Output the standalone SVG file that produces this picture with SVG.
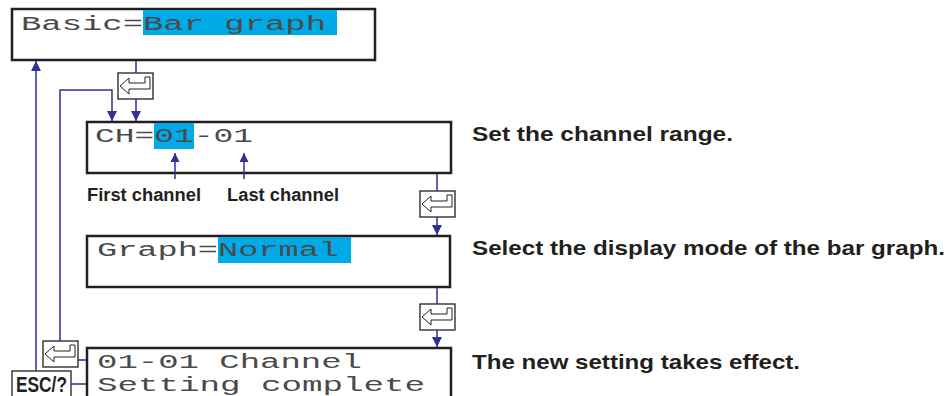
<svg xmlns="http://www.w3.org/2000/svg" width="950" height="396" viewBox="0 0 950 396">
<style>
.box{fill:#fff;stroke:#231f20;stroke-width:2.5}
.hl{fill:#00aae7}
.lcd{font-family:"Liberation Mono","DejaVu Sans Mono",monospace;font-size:20px;fill:#4a4a4a}
.lbl{font-family:"Liberation Sans",Arial,sans-serif;font-weight:bold;fill:#231f20}
.ln{fill:none;stroke:#2e3192;stroke-width:1.5}
.key{fill:#fff;stroke:#231f20;stroke-width:1.3}
.keyarr{fill:#fff;stroke:#231f20;stroke-width:1}
</style>
<defs>
<marker id="ah" viewBox="0 0 10 10" refX="10" refY="5" markerWidth="9" markerHeight="9" markerUnits="userSpaceOnUse" orient="auto">
<path d="M0,0 L10,5 L0,10 Z" fill="#2e3192"/>
</marker>
<marker id="ah2" viewBox="0 0 10 10" refX="10" refY="5" markerWidth="10" markerHeight="10" markerUnits="userSpaceOnUse" orient="auto">
<path d="M0,0 L10,5 L0,10 Z" fill="#2e3192"/>
</marker>
<g id="enter">
<rect class="key" x="0" y="0" width="35" height="26"/>
<polygon class="keyarr" points="2,13 11,5 11,10 27,10 27,4 32,4 32,16 11,16 11,21"/>
</g>
</defs>

<g id="node-basic">
<rect class="box" x="12" y="9" width="363" height="51"/>
<rect class="hl" x="143" y="10" width="194" height="25"/>
<text class="lcd" x="21" y="30" textLength="305" lengthAdjust="spacingAndGlyphs">Basic=Bar graph</text>
</g>

<g id="key1"><use href="#enter" x="118" y="73"/></g>

<g id="node-ch">
<rect class="box" x="87" y="122" width="364" height="51"/>
<rect class="hl" x="154" y="123" width="40" height="26"/>
<text class="lcd" x="95" y="142" textLength="158" lengthAdjust="spacingAndGlyphs">CH=01-01</text>
</g>

<text class="lbl" x="87" y="201" font-size="18" textLength="114" lengthAdjust="spacingAndGlyphs">First channel</text>
<text class="lbl" x="227" y="201" font-size="18" textLength="112" lengthAdjust="spacingAndGlyphs">Last channel</text>

<g id="key2"><use href="#enter" x="420" y="191"/></g>

<g id="node-graph">
<rect class="box" x="87" y="236" width="363" height="51"/>
<rect class="hl" x="218" y="237" width="133" height="26"/>
<text class="lcd" x="97" y="256" textLength="242" lengthAdjust="spacingAndGlyphs">Graph=Normal</text>
</g>

<g id="key3"><use href="#enter" x="420" y="304"/></g>

<g id="node-complete">
<rect class="box" x="87" y="348" width="364" height="60"/>
<text class="lcd" x="97" y="368" textLength="265" lengthAdjust="spacingAndGlyphs">01-01 Channel</text>
<text class="lcd" x="97" y="391" textLength="328" lengthAdjust="spacingAndGlyphs">Setting complete</text>
</g>

<g id="key4"><use href="#enter" x="43" y="341"/></g>

<g id="esc">
<rect class="key" x="12" y="371" width="59" height="35" stroke-width="1.5"/>
<text class="lbl" x="16" y="392" font-size="22" textLength="51" lengthAdjust="spacingAndGlyphs">ESC/?</text>
</g>

<g id="connectors">
<line class="ln" x1="136" y1="61" x2="136" y2="73"/>
<line class="ln" x1="136" y1="99" x2="136" y2="121" marker-end="url(#ah2)"/>
<polyline class="ln" points="60,341 60,90 112,90 112,121" marker-end="url(#ah2)"/>
<line class="ln" x1="78" y1="360" x2="86" y2="360"/>
<line class="ln" x1="36" y1="371" x2="36" y2="61" marker-end="url(#ah2)"/>
<line class="ln" x1="71" y1="384" x2="86" y2="384"/>
<line class="ln" x1="175" y1="179" x2="175" y2="153" marker-end="url(#ah)"/>
<line class="ln" x1="244" y1="179" x2="244" y2="153" marker-end="url(#ah)"/>
<line class="ln" x1="437" y1="174" x2="437" y2="191"/>
<line class="ln" x1="437" y1="217" x2="437" y2="235" marker-end="url(#ah2)"/>
<line class="ln" x1="437" y1="288" x2="437" y2="304"/>
<line class="ln" x1="437" y1="330" x2="437" y2="347" marker-end="url(#ah2)"/>
</g>

<text class="lbl" x="472" y="141" font-size="20.5" textLength="261" lengthAdjust="spacingAndGlyphs">Set the channel range.</text>
<text class="lbl" x="472" y="255" font-size="20.5" textLength="473" lengthAdjust="spacingAndGlyphs">Select the display mode of the bar graph.</text>
<text class="lbl" x="472" y="369" font-size="20.5" textLength="328" lengthAdjust="spacingAndGlyphs">The new setting takes effect.</text>
</svg>
